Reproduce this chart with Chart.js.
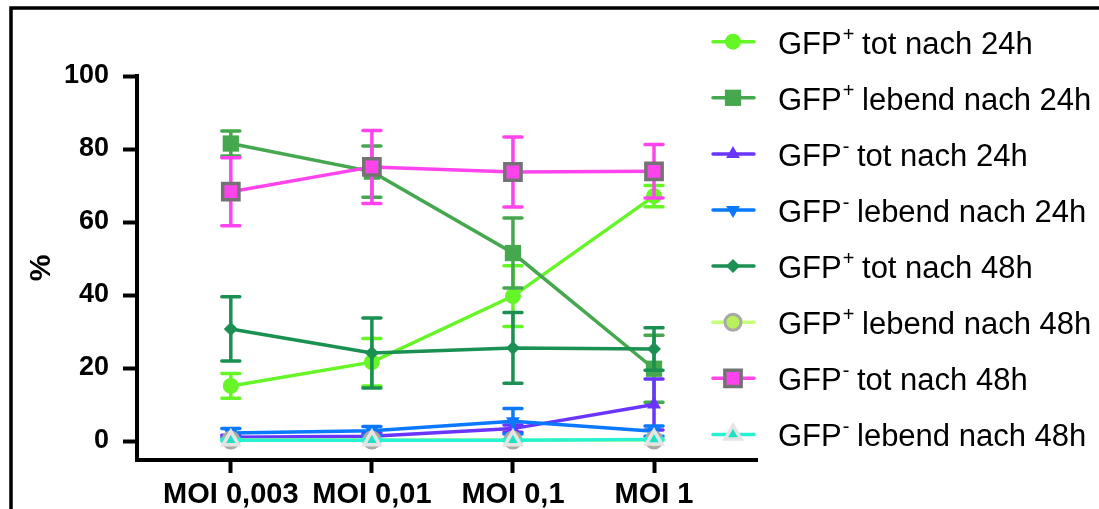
<!DOCTYPE html>
<html>
<head>
<meta charset="utf-8">
<script src="https://cdn.jsdelivr.net/npm/chart.js@4/dist/chart.umd.min.js"></script>
<style>
  html, body { margin: 0; padding: 0; background: #fff; }
  #wrap { width: 1099px; height: 509px; }
</style>
</head>
<body>
<div id="wrap"><canvas id="moiChart"></canvas></div>
<script>
const categories = ['MOI 0,003', 'MOI 0,01', 'MOI 0,1', 'MOI 1'];
const yTicks = [0, 20, 40, 60, 80, 100];

// mean values (%) per MOI
const gfpPosTot24 = [15.1, 21.6, 39.7, 67.1];
const gfpPosLeb24 = [81.5, 73.8, 51.5, 19.8];
const gfpNegTot24 = [1.0, 1.3, 3.4, 10.0];
const gfpNegLeb24 = [2.2, 2.8, 5.4, 2.7];
const gfpPosTot48 = [30.7, 24.1, 25.5, 25.2];
const gfpPosLeb48 = [0.3, 0.3, 0.3, 0.3];
const gfpNegTot48 = [68.3, 75.1, 73.7, 73.9];
const gfpNegLeb48 = [0.2, 0.2, 0.2, 0.4];

// error bars (+/-)
const errPosTot24 = [3.4, 6.5, 8.3, 2.9];
const errPosLeb24 = [3.4, 7.0, 9.6, 9.2];
const errNegTot24 = [0.6, 0.8, 1.0, 7.0];
const errNegLeb24 = [1.2, 1.2, 3.5, 1.4];
const errPosTot48 = [8.8, 9.6, 9.7, 5.8];
const errPosLeb48 = [0.2, 0.2, 0.2, 0.2];
const errNegTot48 = [9.3, 10.0, 9.6, 7.3];
const errNegLeb48 = [0.2, 0.2, 0.2, 0.2];

// legend text: [prefix, superscript sign, rest]
const labels = [
    ['GFP', '+', ' tot nach 24h'],
    ['GFP', '+', ' lebend nach 24h'],
    ['GFP', '-', ' tot nach 24h'],
    ['GFP', '-', ' lebend nach 24h'],
    ['GFP', '+', ' tot nach 48h'],
    ['GFP', '+', ' lebend nach 48h'],
    ['GFP', '-', ' tot nach 48h'],
    ['GFP', '-', ' lebend nach 48h']
];

const FONT = '"Liberation Sans", Arial, sans-serif';

function points(values) {
    return values.map((v, i) => ({ x: i, y: v }));
}

function series(idx, values, errors, style) {
    return Object.assign({
        label: labels[idx].join(''),
        data: points(values),
        errors: errors,
        borderWidth: 3.5,
        pointBorderWidth: 0,
        order: 7 - idx
    }, style);
}

const datasets = [
    series(0, gfpPosTot24, errPosTot24, {
        borderColor: '#66f526', pointBackgroundColor: '#66f526', pointBorderColor: '#66f526',
        pointStyle: 'circle', pointRadius: 8
    }),
    series(1, gfpPosLeb24, errPosLeb24, {
        borderColor: '#45a84e', pointBackgroundColor: '#45a84e', pointBorderColor: '#45a84e',
        pointStyle: 'rect', pointRadius: 11.5
    }),
    series(2, gfpNegTot24, errNegTot24, {
        borderColor: '#6a35ff', pointBackgroundColor: '#6a35ff', pointBorderColor: '#6a35ff',
        pointStyle: 'triangle', pointRadius: 8
    }),
    series(3, gfpNegLeb24, errNegLeb24, {
        borderColor: '#0a78ff', pointBackgroundColor: '#0a78ff', pointBorderColor: '#0a78ff',
        pointStyle: 'triangle', pointRotation: 180, pointRadius: 8
    }),
    series(4, gfpPosTot48, errPosTot48, {
        borderColor: '#1a9052', pointBackgroundColor: '#1a9052', pointBorderColor: '#1a9052',
        pointStyle: 'rectRot', pointRadius: 7
    }),
    series(5, gfpPosLeb48, errPosLeb48, {
        borderColor: '#c4ff78', pointBackgroundColor: '#b8f060', pointBorderColor: '#a8a8a8',
        pointStyle: 'circle', pointRadius: 8, pointBorderWidth: 3
    }),
    series(6, gfpNegTot48, errNegTot48, {
        borderColor: '#ff44ee', pointBackgroundColor: '#ff44ee', pointBorderColor: '#737373',
        pointStyle: 'rect', pointRadius: 11.5, pointBorderWidth: 3.5
    }),
    series(7, gfpNegLeb48, errNegLeb48, {
        borderColor: '#26f2d2', pointBackgroundColor: '#1fe0c2', pointBorderColor: '#e4e4e4',
        pointStyle: 'triangle', pointRadius: 9, pointBorderWidth: 3.5
    })
];

// error bars drawn in the series colour right before each series
const errorBars = {
    id: 'errorBars',
    beforeDatasetDraw(chart, args) {
        const ds = chart.data.datasets[args.index];
        const yScale = chart.scales.y;
        const ctx = chart.ctx;
        ctx.save();
        ctx.strokeStyle = ds.borderColor;
        ctx.lineWidth = 3.5;
        ctx.lineCap = 'round';
        args.meta.data.forEach((pt, i) => {
            const v = ds.data[i].y;
            const e = ds.errors[i];
            const top = yScale.getPixelForValue(v + e);
            const bot = yScale.getPixelForValue(v - e);
            ctx.beginPath();
            ctx.moveTo(pt.x, top);
            ctx.lineTo(pt.x, bot);
            ctx.moveTo(pt.x - 9, top);
            ctx.lineTo(pt.x + 9, top);
            ctx.moveTo(pt.x - 9, bot);
            ctx.lineTo(pt.x + 9, bot);
            ctx.stroke();
        });
        ctx.restore();
    }
};

// white background and the outer frame
const frame = {
    id: 'frame',
    beforeDraw(chart) {
        const ctx = chart.ctx;
        ctx.save();
        ctx.fillStyle = '#fff';
        ctx.fillRect(0, 0, chart.width, chart.height);
        ctx.strokeStyle = '#000';
        ctx.lineWidth = 3.5;
        ctx.beginPath();
        ctx.moveTo(11, chart.height);
        ctx.lineTo(11, 8);
        ctx.lineTo(chart.width, 8);
        ctx.stroke();
        ctx.restore();
    }
};

// legend on the right: line sample with marker, label with superscript sign
const sideLegend = {
    id: 'sideLegend',
    afterDraw(chart) {
        const ctx = chart.ctx;
        ctx.save();
        chart.data.datasets.forEach((ds, i) => {
            const y = 41.7 + i * 56.1;
            ctx.strokeStyle = ds.borderColor;
            ctx.lineWidth = 3.5;
            ctx.lineCap = 'round';
            ctx.beginPath();
            ctx.moveTo(713, y);
            ctx.lineTo(754, y);
            ctx.stroke();

            ctx.fillStyle = ds.pointBackgroundColor;
            ctx.strokeStyle = ds.pointBorderColor;
            ctx.lineWidth = ds.pointBorderWidth;
            Chart.helpers.drawPoint(ctx, {
                pointStyle: ds.pointStyle,
                rotation: ds.pointRotation || 0,
                radius: ds.pointRadius,
                borderWidth: ds.pointBorderWidth
            }, 733, y);

            const parts = labels[i];
            ctx.fillStyle = '#000';
            ctx.textBaseline = 'alphabetic';
            ctx.font = '31px ' + FONT;
            let x = 778;
            const base = y + 12;
            ctx.fillText(parts[0], x, base);
            x += ctx.measureText(parts[0]).width + 1;
            ctx.font = '20px ' + FONT;
            ctx.fillText(parts[1], x, base - 13);
            x += ctx.measureText(parts[1]).width - 1;
            ctx.font = '31px ' + FONT;
            ctx.fillText(parts[2], x, base);
        });
        ctx.restore();
    }
};

const ctx = document.getElementById('moiChart').getContext('2d');
new Chart(ctx, {
    type: 'line',
    data: { datasets: datasets },
    options: {
        responsive: true,
        maintainAspectRatio: false,
        animation: false,
        layout: { padding: { left: 0, top: 76, right: 342, bottom: 0 } },
        plugins: {
            legend: { display: false },
            tooltip: { enabled: false }
        },
        scales: {
            x: {
                type: 'linear',
                min: -0.665,
                max: 3.73,
                afterBuildTicks: scale => { scale.ticks = categories.map((c, i) => ({ value: i })); },
                afterFit: scale => { scale.height = 49; },
                grid: {
                    drawOnChartArea: false, drawTicks: true, tickLength: 13,
                    tickWidth: 4, tickColor: '#000'
                },
                border: { display: true, color: '#000', width: 4 },
                ticks: {
                    autoSkip: false, maxRotation: 0, padding: 5, color: '#000',
                    font: { family: FONT, size: 29, weight: 'bold' },
                    callback: v => categories[v]
                }
            },
            y: {
                min: -5.2,
                max: 100,
                afterBuildTicks: scale => { scale.ticks = yTicks.map(v => ({ value: v })); },
                afterFit: scale => { scale.width = 137; },
                grid: {
                    drawOnChartArea: false, drawTicks: true, tickLength: 14,
                    tickWidth: 4, tickColor: '#000'
                },
                border: { display: true, color: '#000', width: 4 },
                ticks: {
                    padding: 14, color: '#000',
                    font: { family: FONT, size: 27, weight: 'bold' }
                },
                title: {
                    display: true, text: '%', color: '#000', padding: { top: 24 },
                    font: { family: FONT, size: 30, weight: 'bold' }
                }
            }
        }
    },
    plugins: [frame, errorBars, sideLegend]
});
</script>
</body>
</html>
